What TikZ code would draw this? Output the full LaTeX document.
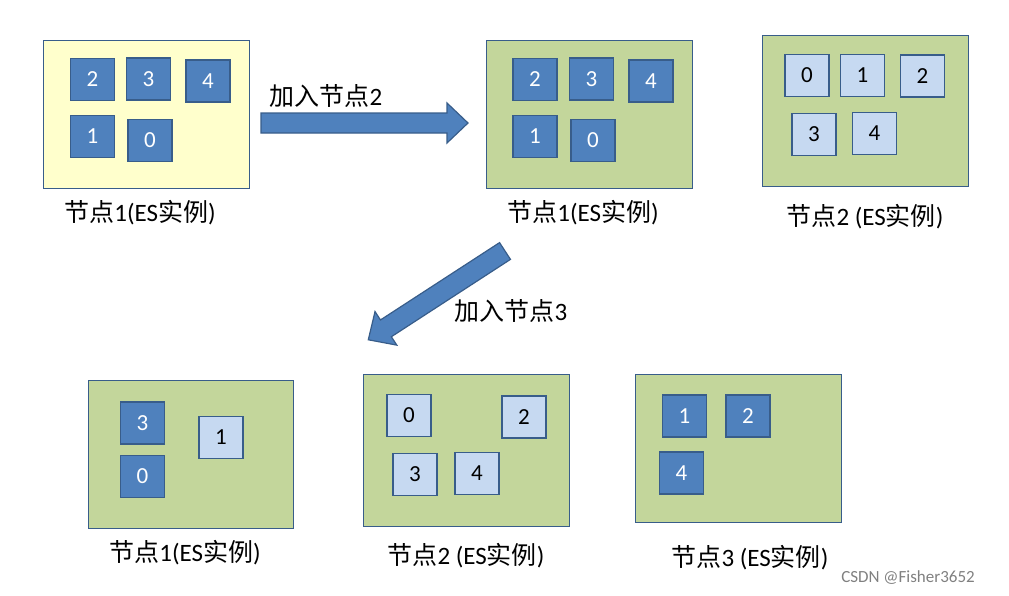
\documentclass[tikz,border=0pt]{standalone}
\usepackage{fontspec}
\setmainfont{Carlito}
\newfontfamily\cjk{Noto Sans CJK SC}
\definecolor{nodeG}{HTML}{C3D69B}
\definecolor{nodeY}{HTML}{FFFFCC}
\definecolor{dblue}{HTML}{4F81BD}
\definecolor{dbord}{HTML}{385D8A}
\definecolor{lblue}{HTML}{C6D9F1}
\begin{document}
\begin{tikzpicture}[x=1pt,y=-1pt,
  esbox/.style={draw=dbord,line width=0.8pt},
  pri/.style={draw=dbord,fill=dblue,line width=1.8pt,text=white,minimum width=44pt,minimum height=42pt,inner sep=0pt,font=\fontsize{23}{23}\selectfont},
  rep/.style={draw=dbord,fill=lblue,line width=1.8pt,text=black,minimum width=44pt,minimum height=42pt,inner sep=0pt,font=\fontsize{23}{23}\selectfont},
  lab/.style={font=\fontsize{25}{27}\selectfont},
  bigarrow/.style={draw=dbord,fill=dblue,line width=1.2pt,line join=miter}]
\useasboundingbox (0,0) rectangle (1009,595);
% boxes
\draw[esbox,fill=nodeY] (43,40) rectangle (249,188);
\draw[esbox,fill=nodeG] (486,40) rectangle (692,188);
\draw[esbox,fill=nodeG] (762,35) rectangle (968,186);
\draw[esbox,fill=nodeG] (88,380) rectangle (293,528);
\draw[esbox,fill=nodeG] (363,374) rectangle (569,526);
\draw[esbox,fill=nodeG] (635,374) rectangle (841,522);
% top-left
\node[pri] (a2) at (92.5,79.5) {2};
\node[pri] (a3) at (148.5,79) {3};
\node[pri] (a4) at (208,81) {4};
\node[pri] (a1) at (92.5,136.5) {1};
\node[pri] (a0) at (150,140.5) {0};
% top-mid
\node[pri] (b2) at (535,79.5) {2};
\node[pri] (b3) at (591.5,79) {3};
\node[pri] (b4) at (651,81) {4};
\node[pri] (b1) at (535,136.5) {1};
\node[pri] (b0) at (593,140.5) {0};
% top-right
\node[rep] (c0) at (807,75.5) {0};
\node[rep] (c1) at (862.5,75.5) {1};
\node[rep] (c2) at (922.5,76) {2};
\node[rep] (c3) at (814,134.5) {3};
\node[rep] (c4) at (874.5,133.5) {4};
% bottom 1
\node[pri] (d3) at (142.5,423) {3};
\node[rep] (d1) at (221,437.5) {1};
\node[pri] (d0) at (142.5,476.5) {0};
% bottom 2
\node[rep] (e0) at (409,415.5) {0};
\node[rep] (e2) at (524,417) {2};
\node[rep] (e3) at (415,474.5) {3};
\node[rep] (e4) at (477,473.5) {4};
% bottom 3
\node[pri] (f1) at (684.5,416) {1};
\node[pri] (f2) at (748,416) {2};
\node[pri] (f4) at (681.5,473) {4};
% labels
\node[lab] (l1) at (140,213) {{\cjk 节点}1(ES{\cjk 实例})};
\node[lab] (l2) at (583,213) {{\cjk 节点}1(ES{\cjk 实例})};
\node[lab] (l3) at (865,217) {{\cjk 节点}2 (ES{\cjk 实例})};
\node[lab] (l4) at (185,553) {{\cjk 节点}1(ES{\cjk 实例})};
\node[lab] (l5) at (466,556) {{\cjk 节点}2 (ES{\cjk 实例})};
\node[lab] (l6) at (750,558) {{\cjk 节点}3 (ES{\cjk 实例})};
% arrows
\begin{scope}[shift={(261,123)}]
\draw[bigarrow] (0,-10) -- (186,-10) -- (186,-20) -- (207,0) -- (186,20) -- (186,10) -- (0,10) -- cycle;
\end{scope}
\node[lab] (t1) at (326,96) {{\cjk 加入节点}2};
\begin{scope}[shift={(505,251)},rotate=213]
\draw[bigarrow] (0,-10) -- (142,-10) -- (142,-20) -- (163,0) -- (142,20) -- (142,10) -- (0,10) -- cycle;
\end{scope}
\node[lab] (t2) at (511,311) {{\cjk 加入节点}3};
\node[font=\fontsize{17}{19}\selectfont,text=gray] (wm) at (908,578) {CSDN @Fisher3652};
\end{tikzpicture}
\end{document}
